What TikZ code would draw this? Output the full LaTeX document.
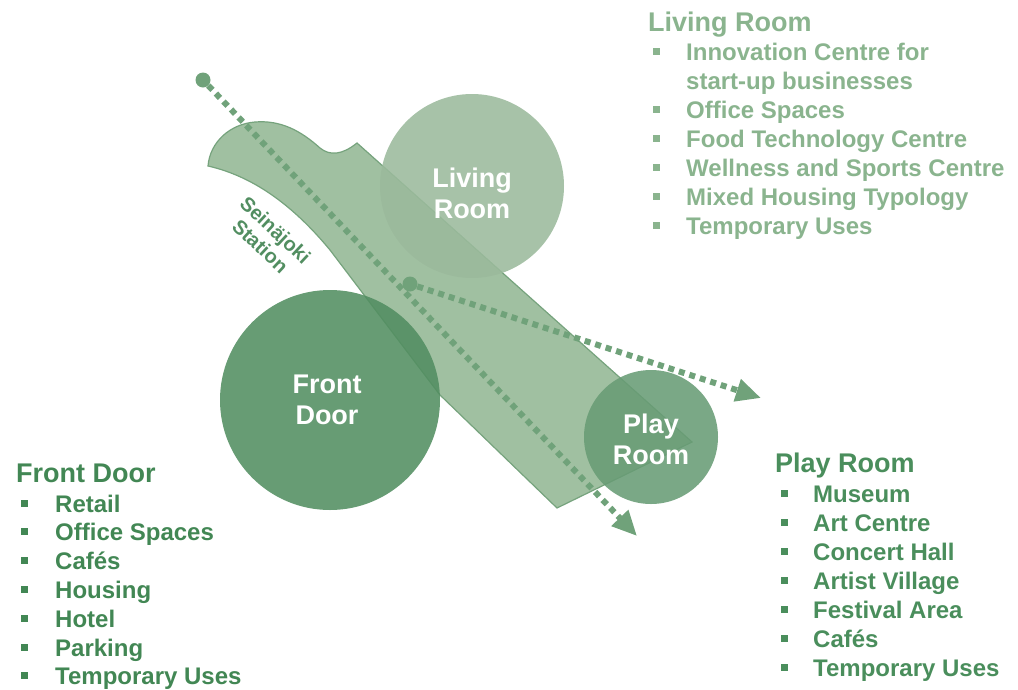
\documentclass[tikz,border=0pt]{standalone}
\usepackage{fontspec}
\setmainfont{Liberation Sans}
\usetikzlibrary{arrows.meta,positioning}

\definecolor{livefill}{RGB}{155,186,156}
\definecolor{frontfill}{RGB}{82,142,97}
\definecolor{playfill}{RGB}{104,156,117}
\definecolor{stationfill}{RGB}{150,185,151}
\definecolor{stationline}{RGB}{118,163,125}
\definecolor{dotgreen}{RGB}{112,162,122}
\definecolor{livetext}{RGB}{138,180,142}
\definecolor{fronttext}{RGB}{66,135,84}
\definecolor{playtext}{RGB}{74,142,92}

\tikzset{
  room/.style={circle, inner sep=0pt, minimum size=#1, fill opacity=0.88},
  roomtext/.style={text=white, align=center, inner sep=0pt,
    font=\fontsize{27}{31}\selectfont\bfseries},
  head/.style={anchor=base west, inner sep=0pt, font=\fontsize{27}{31}\selectfont\bfseries},
  item/.style={anchor=base west, inner sep=0pt, font=\fontsize{24}{29}\selectfont\bfseries},
  sq/.style={rectangle, inner sep=0pt, minimum size=7pt},
  dotline/.style={draw=dotgreen, line width=6pt, dash pattern=on 6pt off 5pt,
    -{Triangle[length=25pt,width=22pt]}},
  startdot/.style={circle, fill=dotgreen, inner sep=0pt, minimum size=15pt},
}

\begin{document}
\begin{tikzpicture}[x=1pt, y=-1pt]
\useasboundingbox (0,0) rectangle (1018,689);

% station area
\filldraw[fill=stationfill, draw=stationline, line width=1.2pt, fill opacity=0.9]
  (208,166) .. controls (210,142) and (230,124) .. (255,122)
  .. controls (280,120) and (300,130) .. (320,148)
  .. controls (330,156) and (342,155) .. (357,143)
  -- (692,442) -- (557,508) -- (440,395) -- (330,250)
  .. controls (292,204) and (252,176) .. cycle;
\node[rotate=-43, align=center, text=frontfill, inner sep=0pt,
  font=\fontsize{20}{22}\selectfont\bfseries] (station) at (268,238) {Seinäjoki\\Station};

% rooms
\node[room=184pt, fill=livefill] (living) at (472,186) {};
\node[room=220pt, fill=frontfill] (front) at (330,400) {};
\node[room=134pt, fill=playfill] (play) at (651,437) {};
\node[roomtext] (livingtxt) at (472,193) {Living\\Room};
\node[roomtext] (fronttxt) at (327,400) {Front\\Door};
\node[roomtext] (playtxt) at (651,439) {Play\\Room};

% routes
\node[startdot] (dot1) at (203,80) {};
\node[startdot] (dot2) at (410,284) {};
\coordinate (tip1) at (637,536);
\coordinate (tip2) at (761,398);
\draw[dotline] (dot1) -- (tip1);
\draw[dotline] (dot2) -- (tip2);

% Living Room list
\node[head, text=livetext] (lrhead) at (648,31) {Living Room};
\foreach \txt/\bul [count=\i from 0] in {Innovation Centre for/1, start-up businesses/0,
    Office Spaces/1, Food Technology Centre/1, Wellness and Sports Centre/1,
    Mixed Housing Typology/1, Temporary Uses/1}{
  \node[item, text=livetext] (lr-\i) at (686,60+29*\i) {\txt};
  \ifnum\bul=1 \node[sq, fill=livetext] (lrb-\i) at (656,51+29*\i) {}; \fi
}

% Front Door list
\node[head, text=fronttext] (fdhead) at (16,482) {Front Door};
\foreach \txt [count=\i from 0] in {Retail, Office Spaces, Cafés, Housing, Hotel,
    Parking, Temporary Uses}{
  \node[item, text=fronttext] (fd-\i) at (55,512+28.8*\i) {\txt};
  \node[sq, fill=fronttext] (fdb-\i) at (24,503+28.8*\i) {};
}

% Play Room list
\node[head, text=playtext] (prhead) at (775,472) {Play Room};
\foreach \txt [count=\i from 0] in {Museum, Art Centre, Concert Hall, Artist Village,
    Festival Area, Cafés, Temporary Uses}{
  \node[item, text=playtext] (pr-\i) at (813,502+29*\i) {\txt};
  \node[sq, fill=playtext] (prb-\i) at (784,493+29*\i) {};
}
\end{tikzpicture}
\end{document}
